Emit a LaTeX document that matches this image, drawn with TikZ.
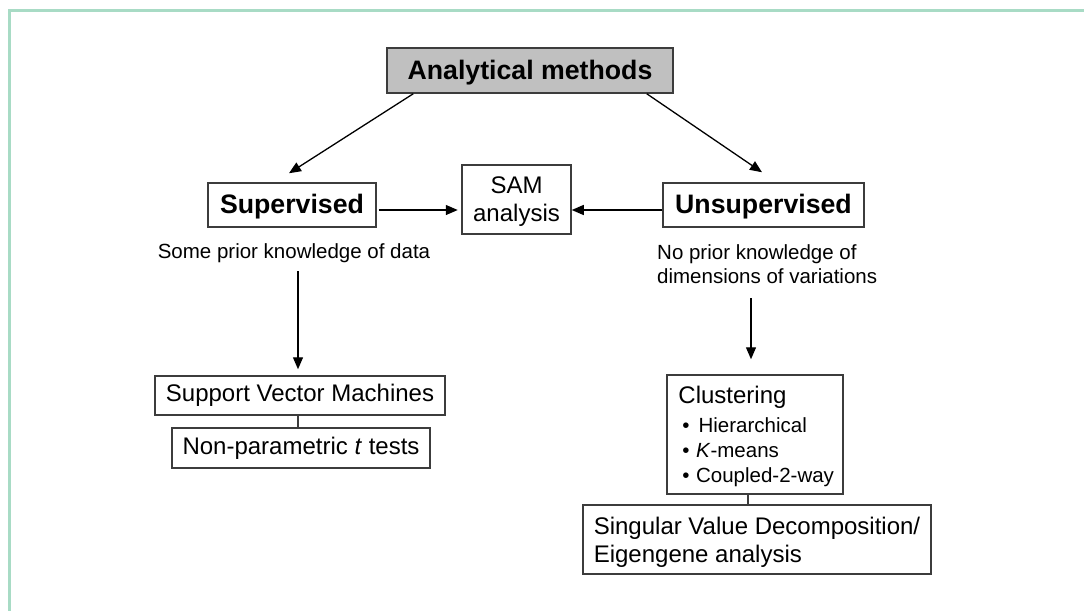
\documentclass[tikz,border=0pt]{standalone}
\usepackage{fontspec}
\setmainfont{Liberation Sans}
\usetikzlibrary{arrows.meta,calc}
\definecolor{framegreen}{HTML}{A8DBC5}
\definecolor{boxgray}{HTML}{C0C0C0}
\definecolor{edgegray}{HTML}{3C3C3C}
\newcommand{\bigbold}{\fontsize{26.7}{32}\selectfont\bfseries}
\newcommand{\boxfont}{\fontsize{24}{28}\selectfont}
\newcommand{\notefont}{\fontsize{20.5}{24}\selectfont}
\begin{document}
\begin{tikzpicture}[x=1pt,y=-1pt,
  box/.style={draw=edgegray, line width=1.5pt, inner sep=0pt, align=center},
  titlebox/.style={box, font=\bigbold, text height=19pt, text depth=1.5pt},
  txt/.style={inner sep=0pt},
  arr/.style={line width=1.3pt, -{Triangle[length=12pt,width=10pt]}},
  link/.style={draw=edgegray, line width=1.2pt}]
\useasboundingbox (0,0) rectangle (1084,611);
\fill[white] (0,0) rectangle (1084,611);
% frame
\draw[framegreen, line width=3pt] (1084,10.3) -- (9.5,10.3) -- (9.5,611);
% nodes
\node[titlebox, fill=boxgray, minimum width=286pt, minimum height=45pt] (am) at (530,70.5) {Analytical methods};
\node[titlebox, minimum width=168pt, minimum height=44pt] (sup) at (292,205) {Supervised};
\node[box, minimum width=109pt, minimum height=69pt, font=\boxfont, text depth=0pt] (sam) at (516.5,199.5) {SAM\\analysis};
\node[titlebox, minimum width=201pt, minimum height=44pt] (uns) at (763.5,205) {Unsupervised};
\node[txt, anchor=base, font=\notefont] (kd) at (294,258) {Some prior knowledge of data};
\node[txt, anchor=north west, align=left, font=\notefont] (nk) at (657,244) {No prior knowledge of\\dimensions of variations};
\node[box, minimum width=290pt, minimum height=39pt, font=\boxfont] (svm) at (300,395.5) {Support Vector Machines};
\node[box, minimum width=258pt, minimum height=40pt, font=\boxfont] (npt) at (301,448) {Non-parametric \textit{t} tests};
\node[box, minimum width=176pt, minimum height=119pt] (clu) at (755,434.5) {};
\node[txt, anchor=base west, font=\boxfont] (clt) at ($(clu.north west)+(12,29)$) {Clustering};
\node[txt, anchor=base west, font=\notefont] (c1) at ($(clu.north west)+(16,58)$) {\textbullet\hspace{9pt}Hierarchical};
\node[txt, anchor=base west, font=\notefont] (c2) at ($(clu.north west)+(16,83)$) {\textbullet\hspace{6.5pt}\textit{K}-means};
\node[txt, anchor=base west, font=\notefont] (c3) at ($(clu.north west)+(16,108)$) {\textbullet\hspace{6.5pt}Coupled-2-way};
\node[box, minimum width=348pt, minimum height=69pt, align=left, font=\boxfont, text depth=0pt] (svd) at (757,539.5) {Singular Value Decomposition/\\Eigengene analysis};
% connectors
\draw[arr] ($(am.south west)+(27,0)$) -- ($(sup.north)+(-3,-9)$);
\draw[arr] ($(am.south east)+(-27,0)$) -- ($(uns.north)+(-1.5,-10)$);
\draw[arr] ($(sup.east)+(2,5)$) -- ($(sam.west)+(-3.5,10.5)$);
\draw[arr] ($(uns.west)+(0,5)$) -- ($(sam.east)+(0,10.5)$);
\draw[arr] ($(kd.south -| svm.north)+(-2,9)$) -- ($(svm.north)+(-2,-6)$);
\draw[arr] ($(nk.south -| clu.north)+(-4,15)$) -- ($(clu.north)+(-4,-15)$);
\draw[link] ($(svm.south)+(-2,0)$) -- ($(npt.north)+(-3,0)$);
\draw[link] ($(clu.south)+(-7,0)$) -- ($(svd.north)+(-9,0)$);
\end{tikzpicture}
\end{document}
